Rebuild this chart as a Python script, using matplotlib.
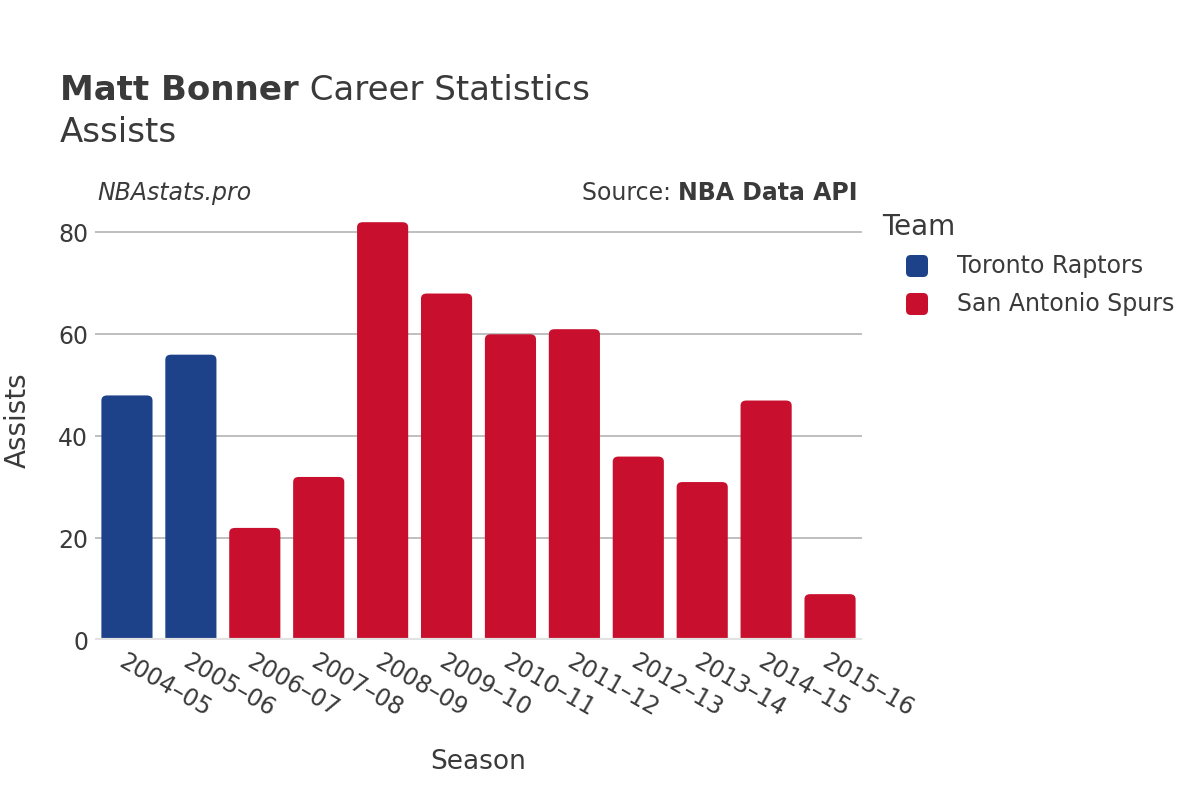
import matplotlib.pyplot as plt
from matplotlib.patches import FancyBboxPatch

seasons = ['2004–05', '2005–06', '2006–07', '2007–08', '2008–09', '2009–10',
           '2010–11', '2011–12', '2012–13', '2013–14', '2014–15', '2015–16']
assists = [48, 56, 22, 32, 82, 68, 60, 61, 36, 31, 47, 9]
teams = ['Toronto Raptors', 'Toronto Raptors'] + ['San Antonio Spurs'] * 10
team_names = ['Toronto Raptors', 'San Antonio Spurs']
team_colors = {'Toronto Raptors': '#1d428a', 'San Antonio Spurs': '#c8102e'}

txt = '#3a3a3a'
plt.rcParams['font.family'] = ['DejaVu Sans']

W, H = 1200, 800
fig = plt.figure(figsize=(12, 8), dpi=100)
# plot area in pixels: x 95..862, y 212..640
ax = fig.add_axes([95 / W, 1 - 640 / H, (862 - 95) / W, (640 - 212) / H])

x = list(range(len(seasons)))
bars = ax.bar(x, [a + 3 for a in assists], bottom=-3, width=0.8,
              color=[team_colors[t] for t in teams])
# swap plain bars for rounded ones
for b in bars:
    b.set_visible(False)
    p = FancyBboxPatch((b.get_x(), b.get_y()), b.get_width(), b.get_height(),
                       boxstyle='round,pad=0,rounding_size=0.09',
                       mutation_aspect=11, facecolor=b.get_facecolor(),
                       edgecolor='none', zorder=3)
    ax.add_patch(p)

ax.set_xlim(-0.5, len(seasons) - 0.5)
ax.set_ylim(0, 84)
ax.set_yticks([0, 20, 40, 60, 80])
ax.yaxis.grid(True, color='#b4b4b4', linewidth=1.2)
ax.axhline(0, color='#e2e2e2', linewidth=3, zorder=4)
ax.set_axisbelow(True)
for s in ax.spines.values():
    s.set_visible(False)
ax.tick_params(axis='both', length=0, labelsize=17, colors=txt)
ax.tick_params(axis='y', pad=5)
ax.set_xticks(x)
ax.set_xticklabels(seasons, rotation=-30, ha='left', va='top',
                   rotation_mode='anchor')
ax.tick_params(axis='x', pad=7)

ax.set_xlabel('Season', fontsize=19, color=txt, labelpad=20)
fig.text(18 / W, 1 - 420 / H, 'Assists', fontsize=20, color=txt,
         rotation=90, ha='center', va='center')

# title, bold name followed by regular text
t1 = fig.text(60 / W, 1 - 100 / H, 'Matt Bonner', fontsize=24.5,
              fontweight='bold', color=txt)
fig.canvas.draw()
r = fig.canvas.get_renderer()
bb = t1.get_window_extent(r)
fig.text(bb.x1 / W, 1 - 100 / H, ' Career Statistics', fontsize=24.5, color=txt)
fig.text(60 / W, 1 - 142 / H, 'Assists', fontsize=24.5, color=txt)

fig.text(97 / W, 1 - 200 / H, 'NBAstats.pro', fontsize=17, style='italic',
         color=txt)
t2 = fig.text(858 / W, 1 - 200 / H, 'NBA Data API', fontsize=17,
              fontweight='bold', color=txt, ha='right')
bb2 = t2.get_window_extent(r)
fig.text(bb2.x0 / W, 1 - 200 / H, 'Source: ', fontsize=17, color=txt,
         ha='right')

# legend drawn by hand so the swatches sit indented under the title
fig.text(882 / W, 1 - 227 / H, 'Team', fontsize=20, color=txt, va='center')
for i, t in enumerate(team_names):
    yc = 266 + i * 38
    sw = FancyBboxPatch(((906) / W, 1 - (yc + 11) / H), 22 / W, 22 / H,
                        boxstyle='round,pad=0,rounding_size=0.004',
                        mutation_aspect=W / H, transform=fig.transFigure,
                        facecolor=team_colors[t], edgecolor='none')
    fig.patches.append(sw)
    fig.text(957 / W, 1 - yc / H, t, fontsize=17, color=txt, va='center')

fig.savefig('out.png', dpi=100)
